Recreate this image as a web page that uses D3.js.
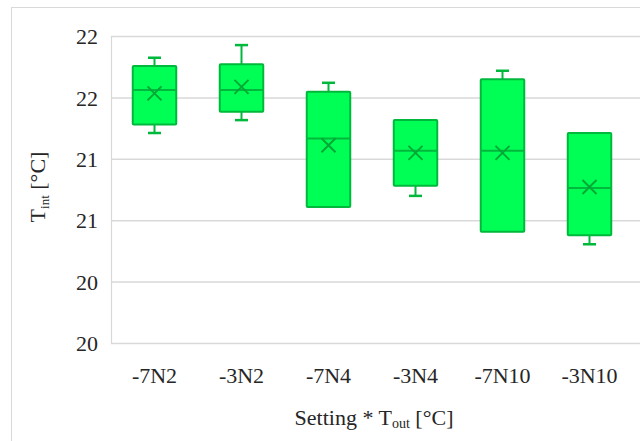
<!DOCTYPE html>
<html>
<head>
<meta charset="utf-8">
<script src="https://cdn.jsdelivr.net/npm/d3@7"></script>
<style>
html,body{margin:0;padding:0;background:#fff;}
svg{display:block;}
</style>
</head>
<body>
<svg id="chart" width="640" height="441"></svg>
<script>
const categories = ["-7N2", "-3N2", "-7N4", "-3N4", "-7N10", "-3N10"];
const minVals    = [21.71, 21.815, 21.108, 21.198, 20.905, 20.804];
const q1Vals     = [21.78, 21.883, 21.108, 21.280, 20.905, 20.878];
const medianVals = [22.06, 22.060, 21.666, 21.565, 21.565, 21.263];
const meanVals   = [22.033, 22.086, 21.611, 21.548, 21.548, 21.271];
const q3Vals     = [22.255, 22.269, 22.046, 21.815, 22.147, 21.711];
const maxVals    = [22.323, 22.426, 22.119, 21.815, 22.217, 21.711];
const tickValues = [20, 20.5, 21, 21.5, 22, 22.5];
const tickLabels = ["20", "20", "21", "21", "22", "22"];

function pickFont(list) {
  const c = document.createElement("canvas").getContext("2d");
  const s = "Setting * Tout -7N10 [°C] mmmWWWiii";
  for (const f of list) {
    let ok = false;
    for (const base of ["monospace", "sans-serif"]) {
      c.font = `40px ${base}`; const w0 = c.measureText(s).width;
      c.font = `40px "${f}", ${base}`; const w1 = c.measureText(s).width;
      if (Math.abs(w0 - w1) > 0.5) ok = true;
    }
    if (ok) return `"${f}"`;
  }
  return "serif";
}
const FONT = pickFont(["Liberation Serif", "Times New Roman", "Tinos", "Nimbus Roman", "FreeSerif",
  "Noto Serif", "DejaVu Serif"]);
const TXT = "#262626";
const FS = 22;

const svg = d3.select("#chart");
const W = 640, H = 441;
const plot = {left: 111, right: 633, top: 36, bottom: 343};

svg.append("rect").attr("x", 11.5).attr("y", 7.5).attr("width", 640).attr("height", 460)
  .attr("fill", "none").attr("stroke", "#d9d9d9").attr("stroke-width", 1);

const x = d3.scaleBand().domain(categories).range([plot.left, plot.right]).paddingInner(0.5).paddingOuter(0.25);
const y = d3.scaleLinear().domain([20, 22.5]).range([plot.bottom, plot.top]);

const yAxis = d3.axisLeft(y).tickValues(tickValues).tickSize(-(W - plot.left)).tickPadding(13)
  .tickFormat((d, i) => tickLabels[i]);
const gy = svg.append("g").attr("transform", `translate(${plot.left},0)`).call(yAxis)
  .attr("font-family", FONT);
gy.select(".domain").attr("stroke", "#d9d9d9").attr("stroke-width", 1.2);
gy.selectAll(".tick line").attr("stroke", "#d9d9d9").attr("stroke-width", 1.5);
gy.selectAll(".tick text").attr("font-size", FS).attr("fill", TXT).attr("dy", "0.35em");

const xAxis = d3.axisBottom(x).tickSize(0).tickPadding(24);
const gx = svg.append("g").attr("transform", `translate(0,${plot.bottom})`).call(xAxis)
  .attr("font-family", FONT);
gx.select(".domain").remove();
gx.selectAll(".tick text").attr("font-size", FS).attr("fill", TXT);

const data = categories.map((c, i) => ({c, min: minVals[i], q1: q1Vals[i], med: medianVals[i],
  mean: meanVals[i], q3: q3Vals[i], max: maxVals[i]}));

const fill = "#00ff55", stroke = "#00b83c";
const bw = x.bandwidth();
const capW = 13;
const g = svg.append("g");
const boxes = g.selectAll("g.box").data(data).join("g").attr("class", "box");

boxes.each(function(d) {
  const s = d3.select(this);
  const cx = x(d.c) + bw / 2;
  if (d.max > d.q3 + 1e-6) {
    s.append("line").attr("x1", cx).attr("x2", cx).attr("y1", y(d.q3)).attr("y2", y(d.max))
      .attr("stroke", stroke).attr("stroke-width", 2);
    s.append("line").attr("x1", cx - capW/2).attr("x2", cx + capW/2).attr("y1", y(d.max)).attr("y2", y(d.max))
      .attr("stroke", stroke).attr("stroke-width", 2.5);
  }
  if (d.min < d.q1 - 1e-6) {
    s.append("line").attr("x1", cx).attr("x2", cx).attr("y1", y(d.q1)).attr("y2", y(d.min))
      .attr("stroke", stroke).attr("stroke-width", 2);
    s.append("line").attr("x1", cx - capW/2).attr("x2", cx + capW/2).attr("y1", y(d.min)).attr("y2", y(d.min))
      .attr("stroke", stroke).attr("stroke-width", 2.5);
  }
  s.append("rect").attr("x", x(d.c)).attr("y", y(d.q3)).attr("width", bw)
    .attr("height", y(d.q1) - y(d.q3)).attr("fill", fill).attr("stroke", stroke).attr("stroke-width", 2)
    .attr("rx", 1);
  s.append("line").attr("x1", x(d.c)).attr("x2", x(d.c) + bw).attr("y1", y(d.med)).attr("y2", y(d.med))
    .attr("stroke", stroke).attr("stroke-width", 2);
  const m = 7, my = y(d.mean);
  s.append("path").attr("d", `M${cx-m},${my-m}L${cx+m},${my+m}M${cx-m},${my+m}L${cx+m},${my-m}`)
    .attr("stroke", "#00a835").attr("stroke-width", 2).attr("fill", "none");
});

const yt = svg.append("text").attr("transform", `translate(45,187) rotate(-90)`)
  .attr("text-anchor", "middle").attr("font-size", FS).attr("fill", TXT).attr("font-family", FONT);
yt.append("tspan").text("T");
yt.append("tspan").attr("font-size", 13).attr("dy", 4).text("int");
yt.append("tspan").attr("dy", -4).text(" [°C]");

const xt = svg.append("text").attr("x", 374).attr("y", 425)
  .attr("text-anchor", "middle").attr("font-size", FS).attr("fill", TXT).attr("font-family", FONT);
xt.append("tspan").text("Setting * T");
xt.append("tspan").attr("font-size", 14).attr("dy", 3).text("out");
xt.append("tspan").attr("dy", -3).text(" [°C]");
</script>
</body>
</html>
